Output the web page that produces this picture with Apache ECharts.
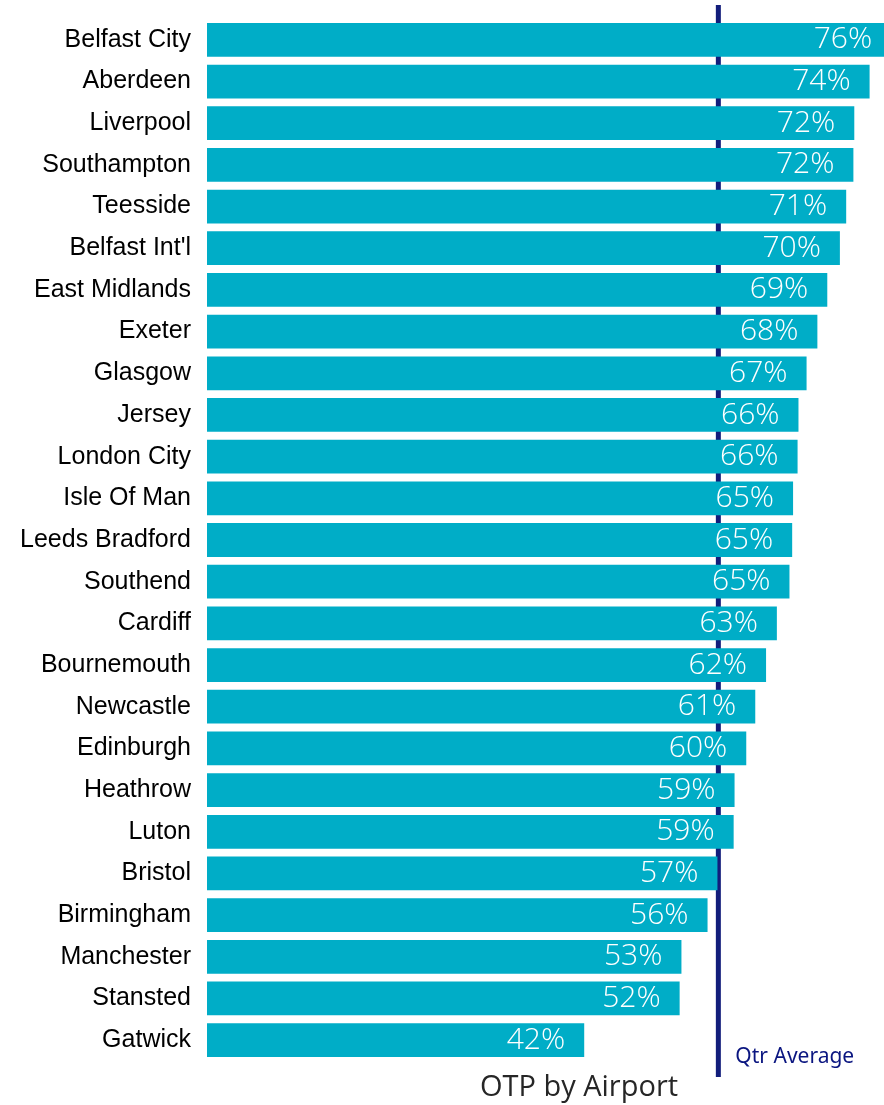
<!DOCTYPE html>
<html>
<head>
<meta charset="utf-8">
<script src="https://cdn.jsdelivr.net/npm/echarts@6/dist/echarts.min.js"></script>
<style>
html,body{margin:0;padding:0;background:#fff;}
#chart{width:884px;height:1105px;}
</style>
</head>
<body>
<div id="chart"></div>
<script>
const airports = ["Belfast City","Aberdeen","Liverpool","Southampton","Teesside","Belfast Int'l","East Midlands","Exeter","Glasgow","Jersey","London City","Isle Of Man","Leeds Bradford","Southend","Cardiff","Bournemouth","Newcastle","Edinburgh","Heathrow","Luton","Bristol","Birmingham","Manchester","Stansted","Gatwick"];
const otpValues = [76.0,73.6,71.9,71.8,71.0,70.3,68.9,67.8,66.6,65.7,65.6,65.1,65.0,64.7,63.3,62.1,60.9,59.9,58.6,58.5,56.7,55.6,52.7,52.5,41.9];
const otpLabels = ["76%","74%","72%","72%","71%","70%","69%","68%","67%","66%","66%","65%","65%","65%","63%","62%","61%","60%","59%","59%","57%","56%","53%","52%","42%"];
const qtrAverage = 56.8;
const qtrLabel = "Qtr Average";
const chartTitle = "OTP by Airport";

const chart = echarts.init(document.getElementById('chart'), null, {renderer:'canvas'});
const XMAX = 75.2;
chart.setOption({
  animation:false,
  grid:[
    {left:207, top:19, width:677, height:1042, containLabel:false},
    {left:207, top:5, width:677, height:1072, containLabel:false}
  ],
  xAxis:[
    {gridIndex:0, type:'value', min:0, max:XMAX, show:false},
    {gridIndex:1, type:'value', min:0, max:XMAX, show:false}
  ],
  yAxis:[
    {gridIndex:0, type:'category', data:airports, inverse:true,
     axisLine:{show:false}, axisTick:{show:false}, splitLine:{show:false},
     axisLabel:{color:'#000', fontFamily:'Liberation Sans', fontSize:25, margin:16}},
    {gridIndex:1, type:'value', min:0, max:1, show:false}
  ],
  graphic:[{
    type:'text', x:579, y:1088,
    style:{text:chartTitle, textAlign:'center', textVerticalAlign:'middle', fill:'#262626', font:'29px "Open Sans"'}
  }],
  series:[
    {
      type:'line', xAxisIndex:1, yAxisIndex:1, z:1,
      data:[[qtrAverage,1],[qtrAverage,0]],
      symbol:'none', lineStyle:{color:'#121d7b', width:5},
      label:{show:false}
    },
    {
      type:'scatter', xAxisIndex:1, yAxisIndex:1, z:1,
      data:[[qtrAverage,0]], symbolSize:0,
      itemStyle:{opacity:1},
      label:{show:true, position:'right', formatter:qtrLabel, offset:[12,-20],
        color:'#0a1580', opacity:1, fontFamily:'Noto Sans', fontSize:21, fontWeight:'normal'}
    },
    {
      type:'bar', xAxisIndex:0, yAxisIndex:0, z:5, clip:false,
      data:otpValues, barCategoryGap:'19%',
      itemStyle:{color:'#00adc7'},
      label:{show:true, position:'insideRight', distance:19,
        formatter:(p)=>otpLabels[p.dataIndex],
        color:'#fff', fontFamily:'Open Sans', fontSize:30, fontWeight:350}
    }
  ]
});
</script>
</body>
</html>
